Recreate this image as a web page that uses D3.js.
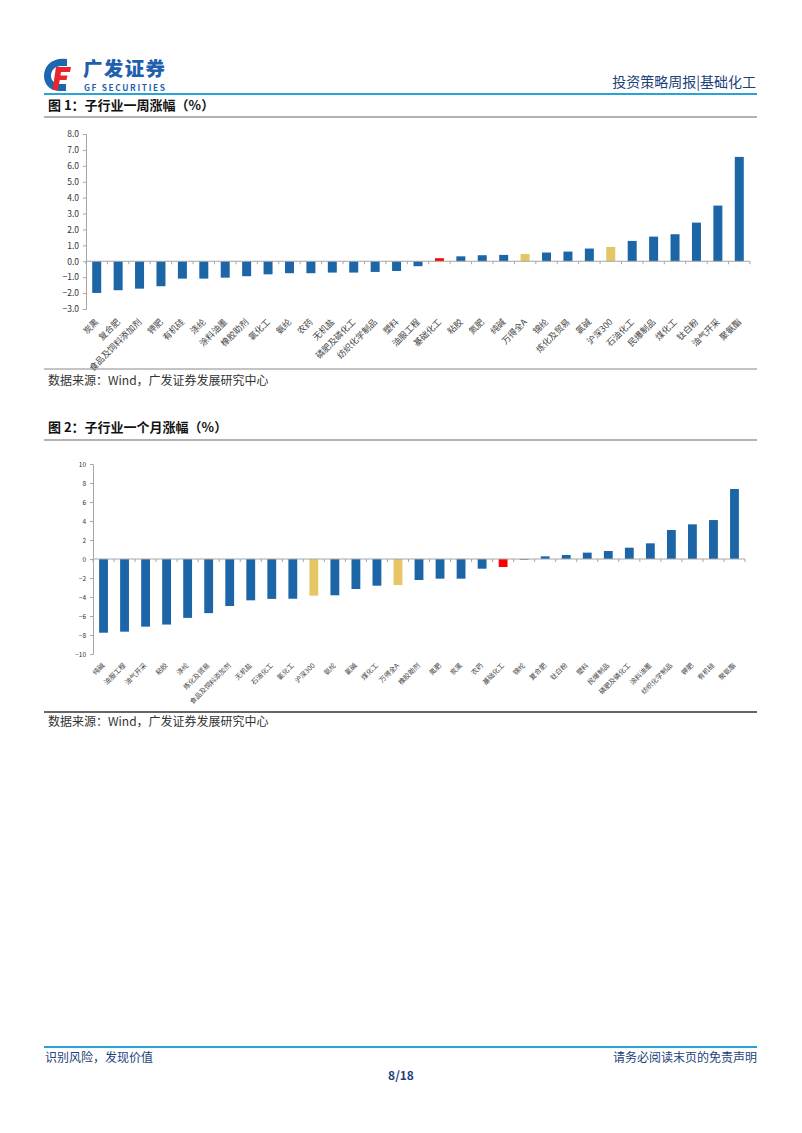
<!DOCTYPE html>
<html><head><meta charset="utf-8">
<script src="https://cdn.jsdelivr.net/npm/d3@7/dist/d3.min.js"></script>
<style>
html,body{margin:0;padding:0;background:#fff;}
svg{display:block;}
text{font-family:"Noto Sans CJK SC","Noto Sans",sans-serif;}
</style></head>
<body>
<svg id="page" width="802" height="1133"></svg>
<script>
// ---- Data ----
const cats1 = ["炭黑","复合肥","食品及饲料添加剂","钾肥","有机硅","涤纶","涂料油墨","橡胶助剂","氯化工","氨纶","农药","无机盐","磷肥及磷化工","纺织化学制品","塑料","油服工程","基础化工","粘胶","氮肥","纯碱","万得全A","锦纶","炼化及贸易","氯碱","沪深300","石油化工","民爆制品","煤化工","钛白粉","油气开采","聚氨酯"];
const vals1 = [-1.99,-1.82,-1.72,-1.57,-1.09,-1.09,-1.03,-0.94,-0.82,-0.75,-0.75,-0.71,-0.71,-0.67,-0.61,-0.31,0.19,0.31,0.38,0.40,0.46,0.55,0.61,0.80,0.90,1.28,1.55,1.70,2.43,3.50,6.56];
const ticks1 = [-3,-2,-1,0,1,2,3,4,5,6,7,8];

const cats2 = ["纯碱","油服工程","油气开采","粘胶","涤纶","炼化及贸易","食品及饲料添加剂","无机盐","石油化工","氯化工","沪深300","氨纶","氯碱","煤化工","万得全A","橡胶助剂","氮肥","炭黑","农药","基础化工","锦纶","复合肥","钛白粉","塑料","民爆制品","磷肥及磷化工","涂料油墨","纺织化学制品","钾肥","有机硅","聚氨酯"];
const vals2 = [-7.76,-7.65,-7.12,-6.9,-6.2,-5.7,-4.95,-4.35,-4.2,-4.18,-3.86,-3.82,-3.16,-2.81,-2.74,-2.21,-2.07,-2.07,-1.02,-0.84,-0.07,0.28,0.42,0.67,0.84,1.19,1.65,3.05,3.65,4.1,7.37];
const ticks2 = [-10,-8,-6,-4,-2,0,2,4,6,8,10];

const indexCats = ["万得全A","沪深300"];
const sectorCat = "基础化工";

const BLUE = "#1c66a8", GOLD = "#e5c664", RED = "#ff0000";
const colorOf = c => c === sectorCat ? RED : (indexCats.includes(c) ? GOLD : BLUE);

const svg = d3.select("#page");
const NAVY = "#1d3f7a";

// ---- Header ----
const logo = svg.append("g");
logo.append("path").attr("d","M67,59 C52,57 44,66 44,76 C44,86 52,92 62,91 L66,91 L66,84 L60,84 C54,84 51,80 51,76 C51,70 55,66 62,66 L67,66 Z").attr("fill","#1f66b1");
logo.append("path").attr("d","M56,67 L71,67 L70,72 L61,72 L60.5,75.5 L67.5,75.5 L66.5,80 L59.8,80 L57.8,90 L52.5,90 Z").attr("fill","#e8262d");
logo.append("text").attr("x",83).attr("y",76).attr("font-size",19.5).attr("font-weight",900).attr("fill","#1f5fae").attr("textLength",82).text("广发证券");
logo.append("text").attr("x",84).attr("y",91).attr("font-size",8.3).attr("font-weight",700).attr("fill","#1f5fae").attr("font-family","DejaVu Sans, sans-serif").attr("textLength",81).text("GF SECURITIES");

svg.append("text").attr("x",756).attr("y",87).attr("text-anchor","end").attr("font-size",14).attr("fill",NAVY).text("投资策略周报|基础化工");
svg.append("line").attr("x1",44).attr("x2",757).attr("y1",94).attr("y2",94).attr("stroke","#27a3d8").attr("stroke-width",2);

// ---- Section helper ----
function section(titleY, lineY, title){
  svg.append("text").attr("x",48).attr("y",titleY).attr("font-size",13).attr("font-weight",700).attr("fill","#111").text(title);
  svg.append("line").attr("x1",44).attr("x2",757).attr("y1",lineY).attr("y2",lineY).attr("stroke","#666").attr("stroke-width",1);
}
function source(lineY, textY, stroke, sw){
  svg.append("line").attr("x1",44).attr("x2",757).attr("y1",lineY).attr("y2",lineY).attr("stroke",stroke).attr("stroke-width",sw);
  svg.append("text").attr("x",48).attr("y",textY).attr("font-size",12).attr("fill","#333").text("数据来源：Wind，广发证券发展研究中心");
}

function barChart(cfg){
  const {cats, vals, ticks, x0, x1, yTop, yBot, dom, fmt, tickFont, labelFont, labelY, labelDx} = cfg;
  const g = svg.append("g");
  const x = d3.scaleBand().domain(cats).range([x0, x1]).paddingInner(0.58).paddingOuter(0.29);
  const y = d3.scaleLinear().domain(dom).range([yBot, yTop]);
  const ya = g.append("g").attr("transform",`translate(${x0},0)`).call(d3.axisLeft(y).tickValues(ticks).tickFormat(fmt).tickSize(3).tickPadding(4));
  ya.select(".domain").attr("stroke","#a6a6a6");
  ya.selectAll(".tick line").attr("stroke","#a6a6a6");
  ya.selectAll("text").attr("font-size",tickFont).attr("fill","#333").attr("font-family","Liberation Sans, Arial, sans-serif");
  g.selectAll("rect.bar").data(cats).enter().append("rect")
    .attr("x",c=>x(c)).attr("width",x.bandwidth())
    .attr("y",(c,i)=>y(Math.max(0,vals[i]))).attr("height",(c,i)=>Math.abs(y(vals[i])-y(0)))
    .attr("fill",c=>colorOf(c));
  g.append("line").attr("x1",x0).attr("x2",x1).attr("y1",y(0)).attr("y2",y(0)).attr("stroke","#a6a6a6");
  const bounds = d3.range(cats.length+1).map(i => x0 + i*(x1-x0)/cats.length);
  g.selectAll("line.xt").data(bounds).enter().append("line")
    .attr("x1",d=>d).attr("x2",d=>d).attr("y1",y(0)).attr("y2",y(0)+3).attr("stroke","#a6a6a6");
  g.selectAll("text.lab").data(cats).enter().append("text")
    .attr("transform",c=>`translate(${x(c)+x.bandwidth()/2+labelDx},${labelY}) rotate(-45)`)
    .attr("text-anchor","end").attr("font-size",labelFont).attr("fill","#444")
    .text(c=>c);
}

section(110, 117, "图 1：子行业一周涨幅（%）");
barChart({cats:cats1, vals:vals1, ticks:ticks1, x0:86, x1:750, yTop:134, yBot:309, dom:[-3,8],
  fmt:d3.format(".1f"), tickFont:8.5, labelFont:8.7, labelY:322.5, labelDx:2.5});
source(369, 385, "#888", 1);

section(432, 440, "图 2：子行业一个月涨幅（%）");
barChart({cats:cats2, vals:vals2, ticks:ticks2, x0:93, x1:745, yTop:464, yBot:654, dom:[-10,10],
  fmt:d3.format("d"), tickFont:6.5, labelFont:6.8, labelY:666, labelDx:1.5});
source(712, 726, "#333", 1.5);

// ---- Footer ----
svg.append("line").attr("x1",44).attr("x2",757).attr("y1",1047).attr("y2",1047).attr("stroke","#27a3d8").attr("stroke-width",2);
svg.append("text").attr("x",45).attr("y",1062).attr("font-size",12).attr("fill",NAVY).text("识别风险，发现价值");
svg.append("text").attr("x",757).attr("y",1062).attr("text-anchor","end").attr("font-size",12).attr("fill",NAVY).text("请务必阅读末页的免责声明");
svg.append("text").attr("x",401).attr("y",1080).attr("text-anchor","middle").attr("font-size",12).attr("font-weight",700).attr("fill",NAVY).attr("font-family","Liberation Sans Narrow, Liberation Sans, sans-serif").text("8/18");
</script>
</body></html>
